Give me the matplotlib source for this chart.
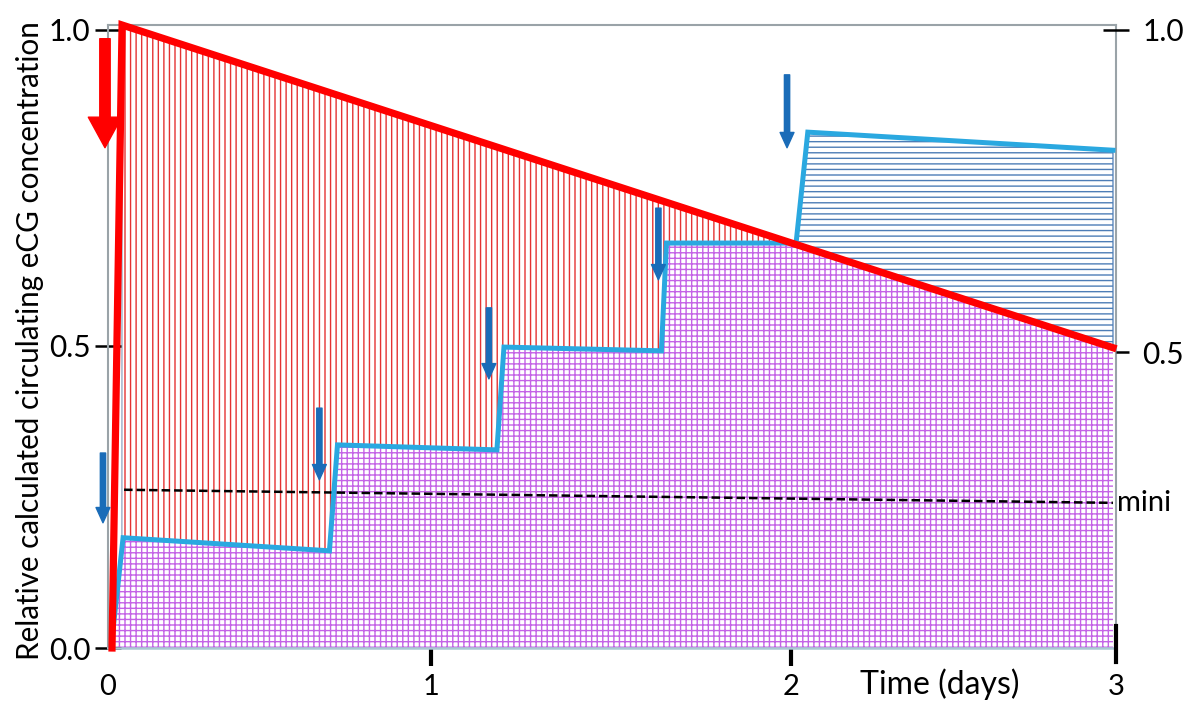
import numpy as np
import matplotlib
matplotlib.use("Agg")
import matplotlib.pyplot as plt

# ---------------- data ----------------
red_x = [0.012, 0.042, 3.0]
red_y = [0.0, 1.0, 0.482]

blue_x = [0.009, 0.045, 0.661, 0.685, 1.161, 1.182, 1.652, 1.667, 2.054, 2.089, 3.0]
blue_y = [0.0, 0.177, 0.156, 0.326, 0.318, 0.483, 0.477, 0.650, 0.650, 0.828, 0.799]

mini_x = [0.048, 3.0]
mini_y = [0.254, 0.233]

dose_x = [-0.015, 0.631, 1.137, 1.643, 2.027]
dose_top = [0.313, 0.385, 0.546, 0.706, 0.920]
dose_tip = [0.201, 0.270, 0.432, 0.591, 0.803]

red_arrow_x = [-0.009]
red_arrow_top = [0.978]
red_arrow_tip = [0.803]

xtick_labels = ["0", "1", "2", "3"]
ytick_labels_left = ["0.0", "0.5", "1.0"]
ytick_labels_right = ["0.5", "1.0"]

# ---------------- layout ----------------
xtick_pos = [0.0, 0.964, 2.039, 3.009]
ytick_pos_left = [0.0, 0.485, 0.992]
ytick_pos_right = [0.475, 0.992]

plt.rcParams["font.family"] = ["Lato", "DejaVu Sans"]
plt.rcParams["hatch.linewidth"] = 1.0

fig = plt.figure(figsize=(11.88, 7.03), dpi=100)
ax = fig.add_axes([108 / 1188, 55 / 703, 1008 / 1188, 623 / 703])
ax.set_xlim(0, 3)
ax.set_ylim(0, 1)

xs = np.union1d(np.linspace(0, 3, 6001), np.array(blue_x + red_x))
red_i = np.interp(xs, red_x, red_y, left=0)
blue_i = np.interp(xs, blue_x, blue_y, left=0)

purple = "#c462e6"
ax.fill_between(xs, 0, np.minimum(red_i, blue_i), where=xs >= 0.009,
                facecolor="white", edgecolor=purple, hatch="+++", linewidth=0, zorder=1)
mask_red = (red_i >= blue_i) & (xs >= 0.042) & (xs <= 2.06)
ax.fill_between(xs, blue_i, red_i, where=mask_red, interpolate=True,
                facecolor="white", edgecolor="#e43232", hatch="|||", linewidth=0, zorder=1)
ax.fill_between(xs, blue_i, red_i, where=mask_red, interpolate=True,
                facecolor="none", edgecolor="#7f98b8", linewidth=0.8, zorder=1.5)
mask_blue = (blue_i >= red_i) & (xs >= 1.9)
ax.fill_between(xs, red_i, blue_i, where=mask_blue, interpolate=True,
                facecolor="white", edgecolor="#4d7db6", hatch="---", linewidth=0, zorder=1)
ax.fill_between(xs, red_i, blue_i, where=mask_blue, interpolate=True,
                facecolor="none", edgecolor="#4d7db6", linewidth=0.9, zorder=1.5)

ax.plot(mini_x, mini_y, color="black", lw=1.8, dashes=(3.4, 1.6), zorder=3)
ax.plot(blue_x, blue_y, color="#2aa8e0", lw=3.6, zorder=4, solid_joinstyle="miter")
ax.plot(red_x, red_y, color="#ff0000", lw=5.2, zorder=5, clip_on=False,
        solid_joinstyle="miter")

for x, t, b in zip(dose_x, dose_top, dose_tip):
    ax.annotate("", xy=(x, b), xytext=(x, t), annotation_clip=False,
                arrowprops=dict(arrowstyle="simple,head_length=1.1,head_width=1.0,tail_width=0.38",
                                color="#1a6cb8", shrinkA=0, shrinkB=0, mutation_scale=10),
                zorder=6)
for x, t, b in zip(red_arrow_x, red_arrow_top, red_arrow_tip):
    ax.annotate("", xy=(x, b), xytext=(x, t), annotation_clip=False,
                arrowprops=dict(arrowstyle="simple,head_length=2.2,head_width=2.4,tail_width=0.75",
                                color="#ff0000", shrinkA=0, shrinkB=0, mutation_scale=10),
                zorder=6)

ax.text(3.012, mini_y[-1], "mini", ha="left", va="center", fontsize=21)

# spines
for s in ["left", "top", "right"]:
    ax.spines[s].set_color("#9aa3a8")
    ax.spines[s].set_linewidth(1.5)
ax.spines["bottom"].set_color("#a9c9d2")
ax.spines["bottom"].set_linewidth(1.8)

# x ticks
ax.set_xticks(xtick_pos)
ax.set_xticklabels(xtick_labels, fontsize=21)
ax.tick_params(axis="x", direction="out", length=13, width=3, pad=6, colors="black")
xt = ax.xaxis.get_major_ticks()
xt[0].tick1line.set_visible(False)
xt[3].tick1line.set_visible(False)
ax.plot([xtick_pos[3], xtick_pos[3]], [0.035, -0.022], color="black", lw=3,
        clip_on=False, zorder=6)

# left y ticks
ax.set_yticks(ytick_pos_left)
ax.set_yticklabels(ytick_labels_left, fontsize=21.5)
ax.tick_params(axis="y", direction="inout", length=19, width=1.8, pad=3)
yt = ax.yaxis.get_major_ticks()
yt[0].tick1line.set_color("#7030a0")
yt[1].tick1line.set_color("#7030a0")
yt[2].tick1line.set_color("black")

ax.set_ylabel("Relative calculated circulating eCG concentration", fontsize=21.3)
ax.yaxis.set_label_coords(-0.0635, 0.494)

# right y ticks
ax2 = ax.twinx()
ax2.set_ylim(0, 1)
ax2.set_yticks(ytick_pos_right)
ax2.set_yticklabels(ytick_labels_right, fontsize=21.5)
ax2.tick_params(axis="y", direction="out", length=9, width=1.8, pad=10, colors="black")
for s in ax2.spines.values():
    s.set_visible(False)
rt = ax2.yaxis.get_major_ticks()
rt[1].tick2line.set_marker("_")
rt[1].tick2line.set_markersize(19)

fig.text(940 / 1188, 1 - 684 / 703, "Time (days)", ha="center", va="center", fontsize=23)

fig.savefig("out.png", dpi=100, facecolor="white")
